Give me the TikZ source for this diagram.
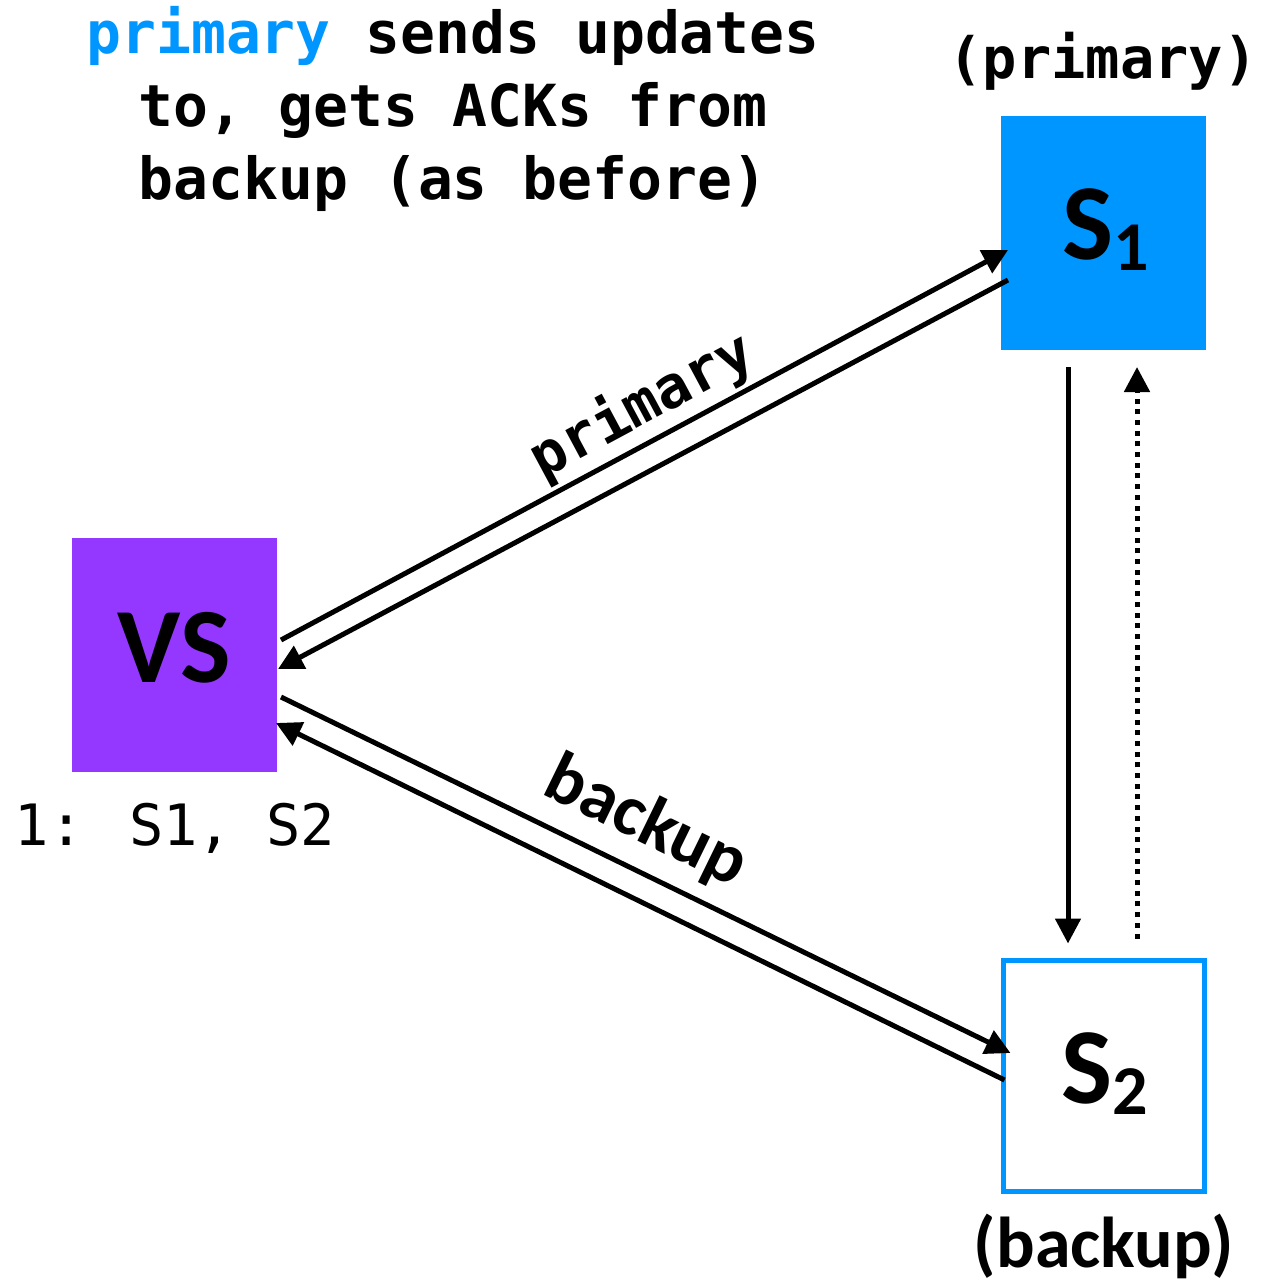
\documentclass[tikz,border=0pt]{standalone}
\usepackage{fontspec}
\usetikzlibrary{arrows.meta,calc}
\newfontfamily\mymono{DejaVu Sans Mono}
\newfontfamily\mysans{Carlito}
\definecolor{srvblue}{RGB}{0,150,255}
\definecolor{vspurple}{RGB}{148,55,255}

\begin{document}
\begin{tikzpicture}[x=1pt,y=-1pt,
  box/.style={minimum width=205pt,minimum height=234pt,inner sep=0pt,outer sep=0pt},
  conn/.style={line width=5pt,-{Triangle[length=25pt,width=25pt]}},
  dotconn/.style={conn,dash pattern=on 5pt off 5.7pt},
  boxtext/.style={inner sep=0pt,font=\mysans\bfseries},
  monob/.style={inner sep=0pt,font=\mymono\bfseries\fontsize{58}{73}\selectfont},
  sansb/.style={inner sep=0pt,font=\mysans\bfseries\fontsize{72}{80}\selectfont}]
\useasboundingbox (0,0) rectangle (1273,1283);

% servers and view server
\node[box,fill=vspurple] (vs) at (174.5,655) {};
\node[box,fill=srvblue] (s1) at (1103.5,233) {};
\node[box,draw=srvblue,line width=5pt,minimum width=201pt,minimum height=231pt] (s2) at (1104,1076) {};

\node[boxtext,font=\mysans\bfseries\fontsize{107}{110}\selectfont] (vstxt) at ($(vs.center)+(0,-7.5)$) {VS};
\node[boxtext] (s1txt) at ($(s1.center)+(2.5,-3)$)
  {{\fontsize{108}{110}\selectfont S}\raisebox{-11pt}{\fontsize{70}{72}\selectfont 1}};
\node[boxtext] (s2txt) at ($(s2.center)+(0.5,-2)$)
  {{\fontsize{108}{110}\selectfont S}\raisebox{-11pt}{\fontsize{70}{72}\selectfont 2}};

% captions
\node[monob,anchor=north,align=center] (note) at (453,6)
  {\textcolor{srvblue}{primary} sends updates\\to, gets ACKs from\\backup (as before)};
\node[monob,font=\mymono\bfseries\fontsize{57}{60}\selectfont,anchor=base] (s1role) at (1103,78) {(primary)};
\node[sansb,anchor=base] (s2role) at (1104,1267) {(backup)};
\node[inner sep=0pt,font=\mymono\fontsize{57}{60}\selectfont,anchor=base] (view) at (175,845) {1: S1, S2};

% view server <-> servers
\draw[conn] ($(vs.east)+(4,-15)$) -- ($(s1.west)+(7,17)$);
\draw[conn] ($(s1.west)+(7,47)$) -- ($(vs.east)+(1,14)$);
\draw[conn] ($(vs.east)+(4,42)$) -- ($(s2.west)+(7,-23)$);
\draw[conn] ($(s2.west)+(1,4)$) -- ($(vs.east)+(-1,68)$);

% primary -> backup updates, backup -> primary ACKs
\draw[conn] ($(s1.south)+(-35.5,17)$) -- ($(s2.north)+(-36,-17)$);
\draw[dotconn] ($(s2.north)+(33,-22)$) -- ($(s1.south)+(33.5,17)$);

% link labels
\node[monob,rotate=28.2] (plabel) at (642,406) {primary};
\node[sansb,rotate=-26] (blabel) at (646,823) {backup};
\end{tikzpicture}
\end{document}
